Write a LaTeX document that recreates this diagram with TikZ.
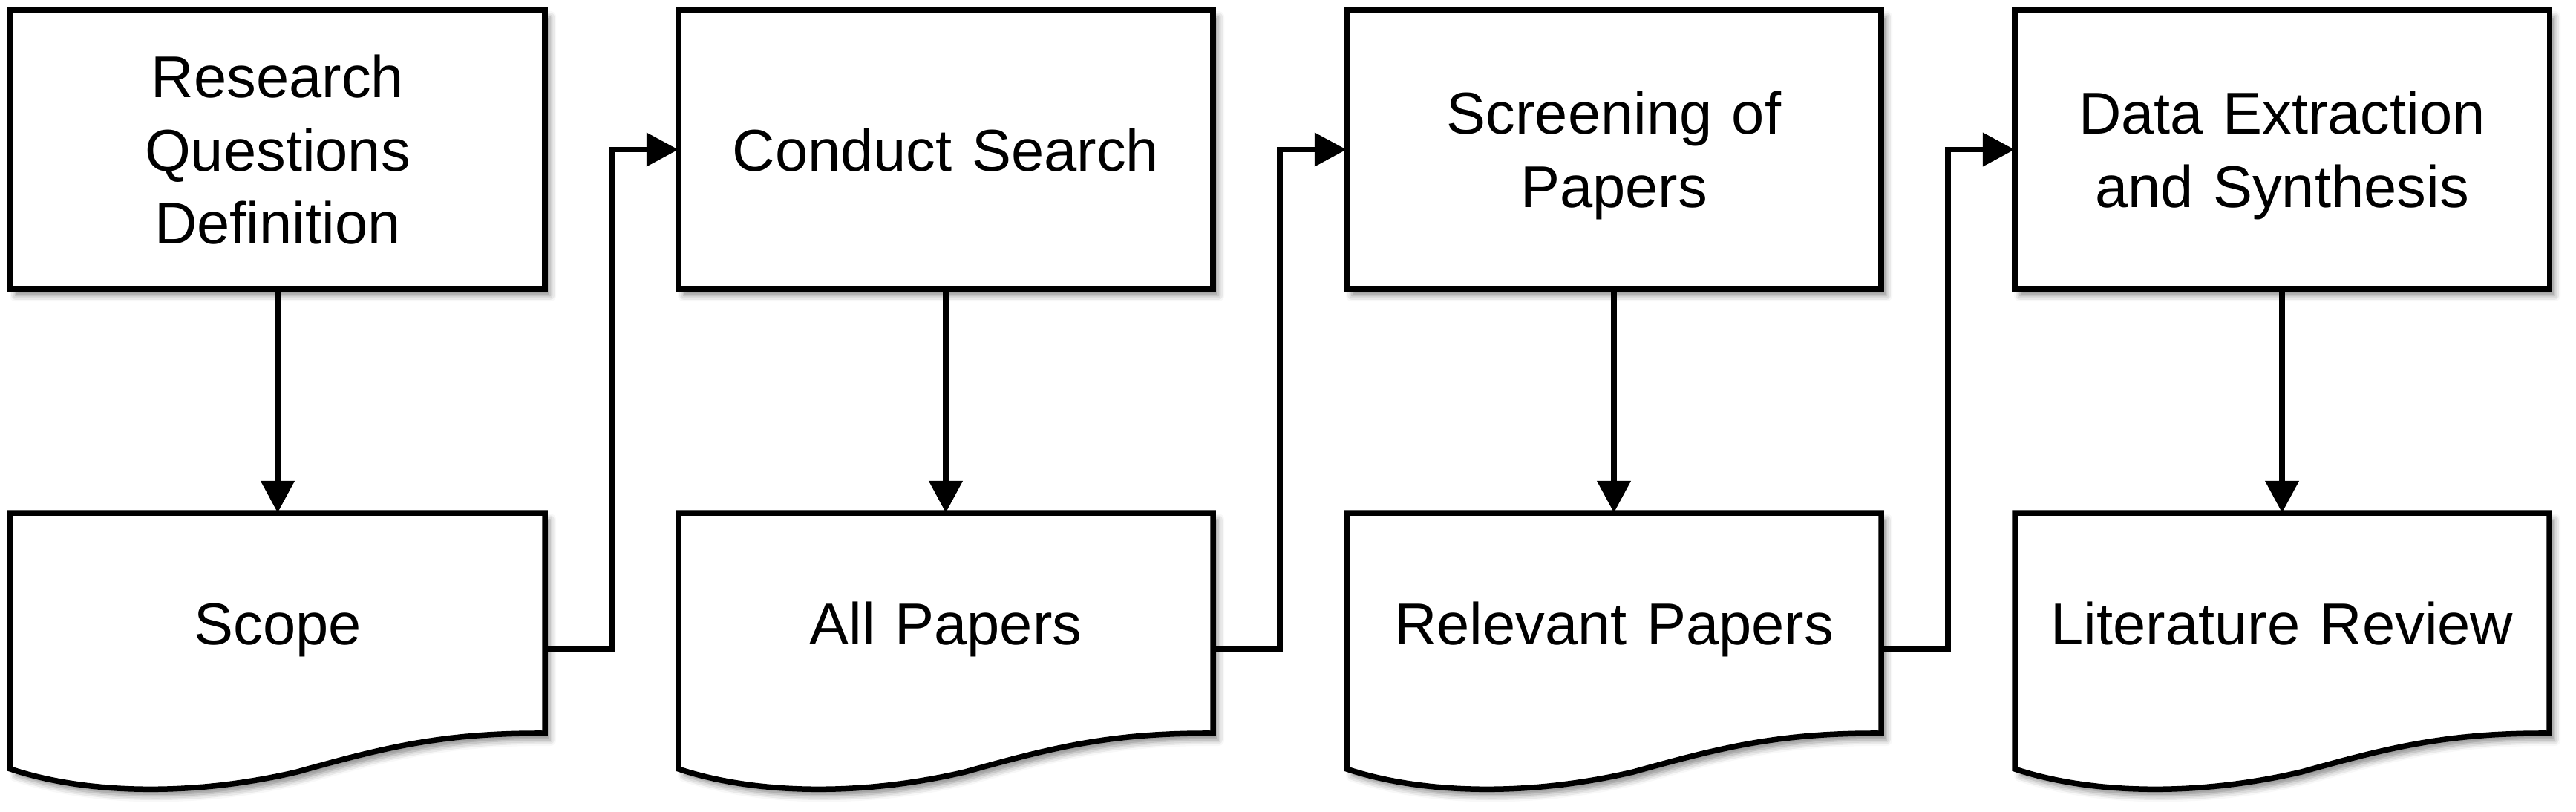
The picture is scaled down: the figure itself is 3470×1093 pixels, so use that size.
\documentclass[tikz,border=0pt]{standalone}
\usepackage{fontspec}
\setmainfont{Liberation Sans}
\usetikzlibrary{arrows.meta,calc,shadows.blur}
\tikzset{
  lw/.style={line width=0.075cm},
  shadowed/.style={blur shadow={shadow xshift=0.07cm, shadow yshift=-0.09cm, shadow blur radius=0.08cm, shadow opacity=45}},
  txt/.style={align=center, font=\fontsize{22.6}{28}\selectfont, text width=7cm, text height=0.77cm},
  lines/.style={text depth={0.2cm+(#1-1)*28pt}},
  procbox/.style={draw, lw, fill=white, rectangle, minimum width=7.2cm, minimum height=3.75cm, inner sep=0pt, outer sep=0pt, txt, shadowed},
  docnode/.style={rectangle, minimum width=7.2cm, minimum height=2.97cm, inner sep=0pt, outer sep=0pt, txt, lines=1},
  docline/.style={draw, lw, fill=white, line join=miter, shadowed},
  flow/.style={lw, -{Triangle[length=0.43cm,width=0.44cm]}}
}
\newcommand\docpath[1]{%
  \begin{scope}[shift={(#1,0)}]
    \path[docline] (0,691) -- (720,691) -- (720,988)
      .. controls (581,987) and (501,1008) .. (386,1040)
      .. controls (236,1075) and (96,1068) .. (0,1036) -- cycle;
  \end{scope}}
\begin{document}
\begin{tikzpicture}[x=0.01cm, y=-0.01cm]
  \useasboundingbox (0,0) rectangle (3470,1093);
  % top process boxes
  \node[procbox, lines=3] (rq) at (374,201.5) {Research\\Questions\\Definition};
  \node[procbox, lines=1] (cs) at (1274,201.5) {Conduct Search};
  \node[procbox, lines=2] (sp) at (2174,201.5) {Screening of\\Papers};
  \node[procbox, lines=2] (de) at (3074,201.5) {Data Extraction\\and Synthesis};
  % document shapes
  \docpath{14}
  \docpath{914}
  \docpath{1814}
  \docpath{2714}
  \node[docnode] (scope) at (374,839.5) {Scope};
  \node[docnode] (ap) at (1274,839.5) {All Papers};
  \node[docnode] (rp) at (2174,839.5) {Relevant Papers};
  \node[docnode] (lr) at (3074,839.5) {Literature Review};
  % vertical flows
  \draw[flow] (rq.south) -- (scope.north);
  \draw[flow] (cs.south) -- (ap.north);
  \draw[flow] (sp.south) -- (rp.north);
  \draw[flow] (de.south) -- (lr.north);
  % elbow flows
  \draw[flow] ($(scope.east)+(0,34.5)$) -| ($(scope.east)!0.5!(cs.west)$) |- (cs.west);
  \draw[flow] ($(ap.east)+(0,34.5)$) -| ($(ap.east)!0.5!(sp.west)$) |- (sp.west);
  \draw[flow] ($(rp.east)+(0,34.5)$) -| ($(rp.east)!0.5!(de.west)$) |- (de.west);
\end{tikzpicture}
\end{document}
